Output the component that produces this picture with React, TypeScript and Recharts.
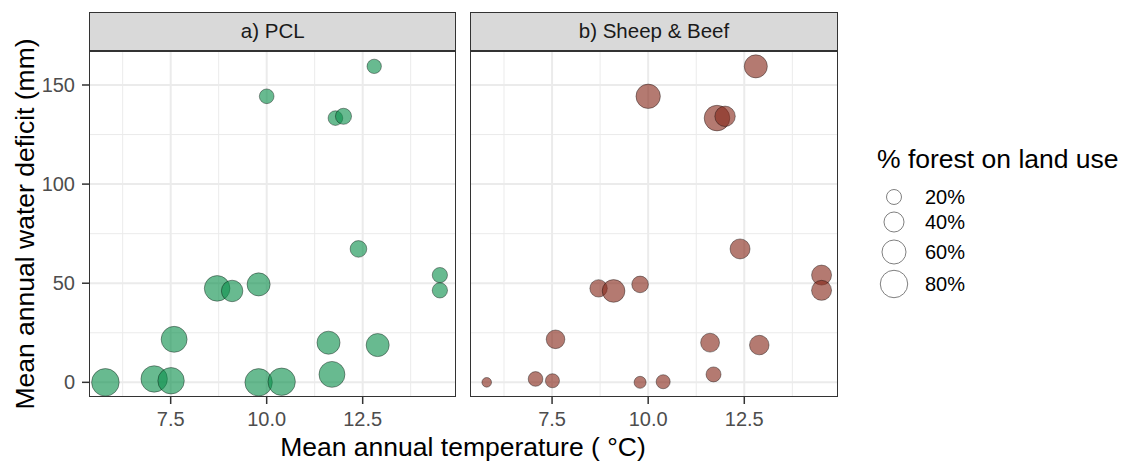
import { CartesianGrid, Scatter, ScatterChart, XAxis, YAxis, ZAxis } from "recharts";

const temperature = [5.8, 7.07, 7.51, 7.59, 8.71, 9.1, 9.79, 10.0, 9.79, 10.39, 11.79, 12.0, 12.8, 12.39, 11.61, 11.7, 12.89, 14.51, 14.51];
const waterDeficit = [0, 1.7, 0.8, 21.7, 47.4, 46.1, 49.4, 144.3, 0, 0.3, 133.3, 134.2, 159.4, 67.3, 20.0, 4.0, 18.8, 54.1, 46.4];
const pclForest = [81, 74, 74, 71, 69, 47, 55, 19, 80, 80, 19, 24, 18, 26, 55, 71, 55, 21, 21];
const sheepForest = [5, 19, 17, 34, 29, 53, 26, 62, 11, 17, 69, 42, 55, 40, 35, 20, 38, 40, 40];

const xTicks = [7.5, 10, 12.5];
const xMinor = [6.25, 8.75, 11.25, 13.75];
const yTicks = [0, 50, 100, 150];
const yMinor = [25, 75, 125];
const legendBreaks = [20, 40, 60, 80];

const X_DOMAIN: [number, number] = [5.373, 14.93];
const Y_DOMAIN: [number, number] = [-7.4, 167.3];
const SIZE_RANGE: [number, number] = [38, 729];

const FONT = "'Liberation Sans', Arial, sans-serif";
const COLORS = { pcl: "#0b8f4c", sheep: "#86281a", grid: "#ebebeb", border: "#333333", tick: "#4d4d4d", strip: "#d9d9d9" };

const pclData = temperature.map((t, i) => ({ t, d: waterDeficit[i], f: pclForest[i] }));
const sheepData = temperature.map((t, i) => ({ t, d: waterDeficit[i], f: sheepForest[i] }));

const PLOT_TOP = 50.7;
const PLOT_BOTTOM = 397;

function Panel({ data, fill, showY, left, width, marginLeft, marginRight }: {
  data: { t: number; d: number; f: number }[];
  fill: string;
  showY: boolean;
  left: number;
  width: number;
  marginLeft: number;
  marginRight: number;
}) {
  return (
    <div style={{ position: "absolute", left, top: 0 }}>
      <ScatterChart
        width={width}
        height={462}
        margin={{ top: PLOT_TOP, right: marginRight, bottom: 462 - PLOT_BOTTOM - 30, left: marginLeft }}
      >
        <CartesianGrid stroke={COLORS.grid} strokeWidth={1} horizontalValues={yMinor} verticalValues={xMinor} />
        <CartesianGrid stroke={COLORS.grid} strokeWidth={2} horizontalValues={yTicks} verticalValues={xTicks} />
        <XAxis
          type="number"
          dataKey="t"
          domain={X_DOMAIN}
          ticks={xTicks}
          allowDataOverflow
          height={30}
          axisLine={false}
          tickSize={7}
          tickMargin={8}
          tickLine={{ stroke: COLORS.border, strokeWidth: 1.5 }}
          tick={{ fill: COLORS.tick, fontSize: 20, fontFamily: FONT }}
          tickFormatter={(v: number) => v.toFixed(1)}
        />
        <YAxis
          type="number"
          dataKey="d"
          domain={Y_DOMAIN}
          ticks={yTicks}
          allowDataOverflow
          hide={!showY}
          width={89}
          axisLine={false}
          tickSize={7}
          tickMargin={7}
          tickLine={{ stroke: COLORS.border, strokeWidth: 1.5 }}
          tick={{ fill: COLORS.tick, fontSize: 20, fontFamily: FONT }}
        />
        <ZAxis type="number" dataKey="f" domain={[0, 100]} range={SIZE_RANGE} />
        <Scatter
          data={data}
          fill={fill}
          fillOpacity={0.62}
          stroke="#000000"
          strokeOpacity={0.55}
          strokeWidth={0.7}
          isAnimationActive={false}
        />
      </ScatterChart>
    </div>
  );
}

function Frame({ left, label }: { left: number; label: string }) {
  const w = 367.4;
  return (
    <>
      <div
        style={{
          position: "absolute", left, top: 12, width: w, height: PLOT_TOP - 12,
          boxSizing: "border-box", background: COLORS.strip, border: `1.3px solid ${COLORS.border}`,
          display: "flex", alignItems: "center", justifyContent: "center",
          fontFamily: FONT, fontSize: 20.5, color: "#1a1a1a",
        }}
      >
        {label}
      </div>
      <div
        style={{
          position: "absolute", left, top: PLOT_TOP, width: w, height: PLOT_BOTTOM - PLOT_TOP,
          boxSizing: "border-box", border: `1.3px solid ${COLORS.border}`, pointerEvents: "none",
        }}
      />
    </>
  );
}

function legendRadius(p: number) {
  const area = SIZE_RANGE[0] + ((SIZE_RANGE[1] - SIZE_RANGE[0]) * p) / 100;
  return Math.sqrt(area / Math.PI);
}

const legendY = [197, 222, 252, 284];

export default function App() {
  return (
    <div style={{ position: "absolute", left: 0, top: 0, width: 1126, height: 462, background: "#fff", fontFamily: FONT }}>
      <Panel data={pclData} fill={COLORS.pcl} showY left={0} width={460} marginLeft={0} marginRight={4} />
      <Panel data={sheepData} fill={COLORS.sheep} showY={false} left={466} width={376} marginLeft={4.3} marginRight={4.3} />
      <Frame left={89} label="a) PCL" />
      <Frame left={470.3} label="b) Sheep & Beef" />
      <div
        style={{
          position: "absolute", left: 25, top: 224, transform: "translate(-50%, -50%) rotate(-90deg)",
          whiteSpace: "nowrap", fontSize: 26.5, color: "#000",
        }}
      >
        Mean annual water deficit (mm)
      </div>
      <div
        style={{
          position: "absolute", left: 463, top: 447, transform: "translate(-50%, -50%)",
          whiteSpace: "nowrap", fontSize: 26.5, color: "#000",
        }}
      >
        Mean annual temperature ( °C)
      </div>
      <div style={{ position: "absolute", left: 877, top: 144, fontSize: 26.5, color: "#000", whiteSpace: "nowrap" }}>
        % forest on land use
      </div>
      <svg style={{ position: "absolute", left: 860, top: 170 }} width={220} height={140}>
        {legendBreaks.map((b, i) => (
          <g key={b}>
            <circle cx={34} cy={legendY[i] - 170} r={legendRadius(b)} fill="none" stroke="#808080" strokeWidth={1} />
            <text x={65} y={legendY[i] - 170} dy="0.36em" fontSize={20} fontFamily={FONT} fill="#000">
              {b}%
            </text>
          </g>
        ))}
      </svg>
    </div>
  );
}
